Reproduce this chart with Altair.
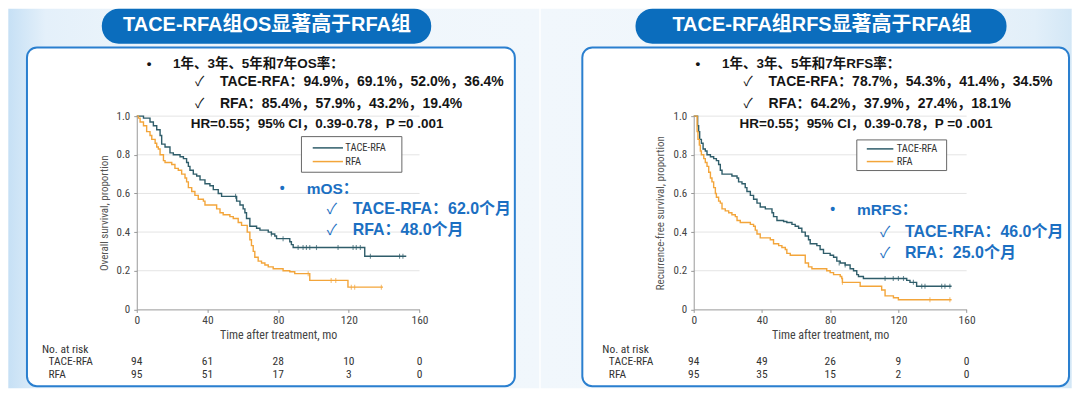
import altair as alt
import pandas as pd

# ---------------- data ----------------
groups = ["TACE-RFA", "RFA"]
colors = ["#2f5d6a", "#f3a53a"]

# Overall survival (step points: time in months, survival proportion)
os_tace_t = [0, 3.8, 7.5, 9.4, 11.3, 13.2, 14.1, 16, 18.8, 20.7, 24.5, 26.4, 28.2, 29.2, 30.1, 32, 33.9, 35.8,
             38.6, 41.4, 43.3, 46.1, 48, 56.5, 58.4, 60.2, 61.2, 62.1, 64, 67.8, 69.7, 74.4, 76.2, 78.1, 79.1,
             86.6, 87.5, 88.5, 129, 152.5]
os_tace_s = [1.0, 0.99, 0.97, 0.95, 0.93, 0.90, 0.855, 0.84, 0.81, 0.80, 0.79, 0.78, 0.76, 0.74, 0.72, 0.70, 0.69,
             0.67, 0.65, 0.64, 0.62, 0.60, 0.585, 0.56, 0.54, 0.52, 0.50, 0.47, 0.43, 0.42, 0.41, 0.40, 0.39, 0.38,
             0.366, 0.35, 0.335, 0.32, 0.275, 0.275]
os_rfa_t = [0, 0.9, 1.9, 3.8, 5.6, 7.5, 8.5, 10.4, 11.3, 12.2, 13.2, 15.1, 16, 19.8, 21.6, 23.5, 25.4, 27.3, 28.2,
            29.2, 31.1, 32.9, 34.8, 37.7, 38.6, 45.2, 47.1, 48.9, 52.7, 54.6, 57.4, 59.3, 62.5, 64, 64.9, 65.9,
            66.8, 68.7, 70.6, 72.5, 74.4, 77.2, 82.8, 86.6, 89.4, 97.9, 119.5, 139.3]
os_rfa_s = [1.0, 0.99, 0.97, 0.95, 0.92, 0.90, 0.88, 0.86, 0.84, 0.83, 0.80, 0.77, 0.76, 0.75, 0.73, 0.72, 0.70,
            0.68, 0.66, 0.63, 0.61, 0.59, 0.57, 0.56, 0.54, 0.52, 0.50, 0.49, 0.48, 0.47, 0.45, 0.435, 0.40, 0.36,
            0.33, 0.30, 0.27, 0.25, 0.24, 0.23, 0.22, 0.21, 0.20, 0.195, 0.185, 0.15, 0.115, 0.115]
os_cens_tace_t = [55.9, 76.2, 82.8, 91.3, 94.1, 96, 97.9, 101.7, 113.9, 122.4, 124.2, 126.5, 132.2, 148.7, 150.6]
os_cens_tace_s = [0.585, 0.39, 0.366, 0.32, 0.32, 0.32, 0.32, 0.32, 0.32, 0.32, 0.32, 0.32, 0.275, 0.275, 0.275]
os_cens_rfa_t = [97, 110, 112.6, 121.4, 123.3, 138.4]
os_cens_rfa_s = [0.185, 0.15, 0.15, 0.115, 0.115, 0.115]

# Recurrence-free survival
rfs_tace_t = [0, 2.3, 2.9, 3.5, 4.5, 5.5, 6.8, 7.8, 9.8, 11.7, 13.3, 14.6, 15.6, 16.6, 22.4, 25.4, 26.3, 28.3,
              30.2, 31.2, 33.2, 35.1, 37.1, 39, 42, 45.9, 46.8, 48.8, 52.7, 54.6, 57.6, 59.5, 61.5, 63.4, 65.4,
              67.3, 68.3, 72.2, 74.1, 76.1, 80, 82, 83.9, 85.9, 88.8, 91.7, 93.7, 95.6, 96.6, 99.5, 124.9, 126.8,
              130.7, 151.2]
rfs_tace_s = [1.0, 0.95, 0.92, 0.88, 0.86, 0.83, 0.82, 0.80, 0.79, 0.78, 0.77, 0.75, 0.72, 0.70, 0.69, 0.68, 0.66,
              0.65, 0.63, 0.61, 0.59, 0.57, 0.55, 0.53, 0.52, 0.50, 0.48, 0.46, 0.455, 0.45, 0.44, 0.43, 0.42, 0.40,
              0.38, 0.36, 0.34, 0.33, 0.31, 0.29, 0.28, 0.27, 0.25, 0.24, 0.23, 0.21, 0.20, 0.18, 0.17, 0.16, 0.15,
              0.14, 0.12, 0.12]
rfs_rfa_t = [0, 2, 2.5, 3.3, 3.9, 4.5, 5.9, 6.8, 7.8, 8.8, 9.8, 10.7, 11.7, 12.7, 13.3, 14.6, 15.6, 16.6, 18.5,
             20.5, 22.4, 24.4, 25.4, 27.3, 33.2, 35.1, 36.1, 37.1, 39, 44.9, 46.8, 49.8, 51.7, 53.7, 54.6, 56.6,
             65.4, 67.3, 69.3, 78, 80, 82, 85.9, 86.8, 87.2, 97.6, 110.2, 112.2, 117.1, 120, 151.2]
rfs_rfa_s = [1.0, 0.92, 0.88, 0.85, 0.82, 0.80, 0.78, 0.76, 0.74, 0.71, 0.68, 0.66, 0.63, 0.60, 0.58, 0.56, 0.55,
             0.52, 0.51, 0.50, 0.49, 0.48, 0.46, 0.45, 0.44, 0.43, 0.41, 0.39, 0.37, 0.36, 0.34, 0.33, 0.32, 0.31,
             0.29, 0.28, 0.24, 0.22, 0.21, 0.20, 0.19, 0.18, 0.17, 0.16, 0.14, 0.12, 0.10, 0.07, 0.06, 0.05, 0.05]
rfs_cens_tace_t = [85.3, 88.8, 112.2, 117, 120, 123, 128.8, 133.7, 135.6, 145.4, 147.3, 150.2]
rfs_cens_tace_s = [0.24, 0.23, 0.16, 0.16, 0.16, 0.16, 0.14, 0.12, 0.12, 0.12, 0.12, 0.12]
rfs_cens_rfa_t = [87.2, 138.5, 150.2]
rfs_cens_rfa_s = [0.14, 0.05, 0.05]

# Numbers at risk
risk_times = [0, 40, 80, 120, 160]
os_risk_tace = [94, 61, 28, 10, 0]
os_risk_rfa = [95, 51, 17, 3, 0]
rfs_risk_tace = [94, 49, 26, 9, 0]
rfs_risk_rfa = [95, 35, 15, 2, 0]

x_ticks = [0, 40, 80, 120, 160]
y_ticks = [0, 0.2, 0.4, 0.6, 0.8, 1.0]
grid_vals = [0.2, 0.4, 0.6, 0.8, 1.0]

# texts
os_title = "TACE-RFA组OS显著高于RFA组"
rfs_title = "TACE-RFA组RFS显著高于RFA组"
os_head = "1年、3年、5年和7年OS率："
rfs_head = "1年、3年、5年和7年RFS率："
os_line1 = "TACE-RFA：94.9%，69.1%，52.0%，36.4%"
os_line2 = "RFA：85.4%，57.9%，43.2%，19.4%"
rfs_line1 = "TACE-RFA：78.7%，54.3%，41.4%，34.5%"
rfs_line2 = "RFA：64.2%，37.9%，27.4%，18.1%"
hr_text = "HR=0.55；95% CI，0.39-0.78，P =0 .001"
os_med = ["mOS：", "TACE-RFA：62.0个月", "RFA：48.0个月"]
rfs_med = ["mRFS：", "TACE-RFA：46.0个月", "RFA：25.0个月"]
os_ytitle = "Overall survival, proportion"
rfs_ytitle = "Recurrence-free survival, proportion"
x_title = "Time after treatment, mo"

# ---------------- styling ----------------
CN = "Liberation Sans, Noto Sans CJK SC, DejaVu Sans, sans-serif"
FIG = "Liberation Sans Narrow, Arial Narrow, Roboto Condensed, Liberation Sans, sans-serif"
BLUE = "#1b6fc2"
ONE = alt.Data(values=[{}])


def curve_df(tt, ss, g):
    return pd.DataFrame({"t": tt, "s": ss, "g": g})


def txt(s, x, y, size, color="#151515", weight="bold", align="left", font=CN):
    return alt.Chart(ONE).mark_text(text=s, align=align, baseline="middle", fontSize=size,
                                    fontWeight=weight, font=font, color=color).encode(
        x=alt.value(x), y=alt.value(y))


def rect(x1, x2, y1, y2, **kw):
    return alt.Chart(ONE).mark_rect(**kw).encode(
        x=alt.value(x1), x2=alt.value(x2), y=alt.value(y1), y2=alt.value(y2))


def hrule(x1, x2, y, color, width=1.5):
    return alt.Chart(ONE).mark_rule(color=color, strokeWidth=width).encode(
        x=alt.value(x1), x2=alt.value(x2), y=alt.value(y))


def panel(W, H, p, title, head, line1, line2, med, ytitle,
          tace, rfa, cens_tace, cens_rfa, risk_tace, risk_rfa):
    x_axis = alt.Axis(values=x_ticks, format="d", grid=False, domainColor="#999", tickColor="#999",
                      tickSize=3, labelPadding=2, labelFlush=False, labelFont=FIG, labelFontSize=11.5,
                      labelColor="#444",
                      title=x_title, titleFont=FIG, titleFontSize=12, titleFontWeight="normal",
                      titleColor="#444", titleX=W / 2, titleY=25, titleBaseline="middle", zindex=1)
    y_axis = alt.Axis(values=y_ticks, labelExpr="datum.value == 0 ? '0' : format(datum.value, '.1f')",
                      grid=False, domainColor="#999", tickColor="#999", tickSize=3, labelPadding=4,
                      labelFlush=False, labelFont=FIG, labelFontSize=11, labelColor="#444",
                      title=ytitle, titleFont=FIG, titleFontSize=11, titleFontWeight="normal",
                      titleColor="#555", titleAngle=270, titleX=p["ytx"], titleY=H / 2,
                      titleAlign="center", titleBaseline="middle", zindex=1)
    xs = alt.Scale(domain=[0, 160], nice=False, zero=False)
    ys = alt.Scale(domain=[0, 1], nice=False)
    cs = alt.Scale(domain=groups, range=colors)
    X = alt.X("t:Q", scale=xs, axis=x_axis)
    Y = alt.Y("s:Q", scale=ys, axis=y_axis)

    bg_stops = p["bg"]
    bg = rect(p["bgx"][0], p["bgx"][1], -107.5, 272.5,
              fill=alt.LinearGradient(gradient="linear",
                                      stops=[alt.GradientStop(color=c, offset=o) for o, c in bg_stops],
                                      x1=0, x2=1, y1=0, y2=0))
    pill = rect(p["pillx"][0], p["pillx"][1], -107.5, -72.5, fill="#0b6dbd", cornerRadius=17)
    pill_t = txt(title, p["pilltx"], -91.5, 20, color="white", align="center")
    box = rect(p["boxx"][0], p["boxx"][1], -68.8, 270.5, fill="white", stroke="#2a7fcf",
               strokeWidth=2, cornerRadius=10)

    grid = alt.Chart(pd.DataFrame({"s": grid_vals})).mark_rule(color="#e4e4e4", strokeWidth=1).encode(
        y=Y, x=alt.value(0), x2=alt.value(W))

    hx = p["hx"]
    heads = [
        txt("•", hx[0], -52.2, 13.5),
        txt(head, hx[1], -52.2, 13.5),
        txt("✓", hx[2], -33.8, 13.5, weight="normal"),
        txt(line1, hx[3], -33.8, 14),
        txt("✓", hx[2], -12.2, 13.5, weight="normal"),
        txt(line2, hx[3], -12.2, 14),
        txt(hr_text, hx[4], 7.8, 13.5),
    ]

    curves = pd.concat([curve_df(tace[0], tace[1], groups[0]), curve_df(rfa[0], rfa[1], groups[1])])
    cens = pd.concat([curve_df(cens_tace[0], cens_tace[1], groups[0]),
                      curve_df(cens_rfa[0], cens_rfa[1], groups[1])])
    lines = alt.Chart(curves).mark_line(interpolate="step-after", strokeWidth=1.4).encode(
        x=X, y=Y, color=alt.Color("g:N", scale=cs, legend=None), detail="g:N")
    ticks = alt.Chart(cens).mark_tick(orient="vertical", size=5, thickness=1.1).encode(
        x=X, y=Y, color=alt.Color("g:N", scale=cs, legend=None))

    lg = p["leg"]
    legend = [
        rect(lg["x"][0], lg["x"][1], lg["y"][0], lg["y"][1], fill="white", stroke="#666", strokeWidth=1),
        hrule(lg["rx"][0], lg["rx"][1], lg["ry"][0], colors[0]),
        hrule(lg["rx"][0], lg["rx"][1], lg["ry"][1], colors[1]),
        txt(groups[0], lg["lx"], lg["ry"][0], 10.5, color="#333", weight="normal", font=FIG),
        txt(groups[1], lg["lx"], lg["ry"][1], 10.5, color="#333", weight="normal", font=FIG),
    ]

    mx, my = p["mx"], p["my"]
    meds = [
        txt("•", mx[0], my[0], 14, color=BLUE),
        txt(med[0], mx[1], my[0], 15.5, color=BLUE),
        txt("✓", mx[2], my[1], 15, color=BLUE, weight="normal"),
        txt(med[1], mx[3], my[1], 16, color=BLUE),
        txt("✓", mx[2], my[2], 15, color=BLUE, weight="normal"),
        txt(med[2], mx[3], my[2], 16, color=BLUE),
    ]

    rx = p["riskx"]
    risk = [
        txt("No. at risk", rx[0], 234.5, 11.5, color="#333", weight="normal", font=FIG),
        txt(groups[0], rx[1], 246.8, 11.5, color="#333", weight="normal", font=FIG),
        txt(groups[1], rx[1], 259.5, 11.5, color="#333", weight="normal", font=FIG),
    ]
    rdf1 = pd.DataFrame({"t": risk_times, "n": risk_tace})
    rdf2 = pd.DataFrame({"t": risk_times, "n": risk_rfa})
    rnum1 = alt.Chart(rdf1).mark_text(font=FIG, fontSize=11.5, color="#333", baseline="middle").encode(
        x=X, y=alt.value(246.8), text="n:Q")
    rnum2 = alt.Chart(rdf2).mark_text(font=FIG, fontSize=11.5, color="#333", baseline="middle").encode(
        x=X, y=alt.value(259.5), text="n:Q")

    layers = [bg, pill, pill_t, box, grid] + heads + [lines, ticks] + legend + meds + risk + [rnum1, rnum2]
    return alt.layer(*layers).properties(width=W, height=H)


left_p = dict(
    bgx=(-128.7, 403.3), bg=[(0, "#c6e0f5"), (0.07, "#e4f0fa"), (0.3, "#eef5fb"), (1, "#f1f7fc")],
    pillx=(-35, 295), pilltx=130.5, boxx=(-110, 378.8),
    hx=(10, 36.3, 58.3, 83.3, 54),
    leg=dict(x=(165, 265.6), y=(20.5, 56.2), rx=(176.3, 206.6), ry=(31.8, 45.5), lx=209),
    mx=(143.3, 170.3, 190.3, 216.3), my=(72.5, 93.5, 114.5),
    riskx=(-95, -88.4), ytx=-32,
)
right_p = dict(
    bgx=(-153.3, 378.7), bg=[(0, "#f1f7fc"), (0.7, "#eef5fb"), (0.93, "#e2eff9"), (1, "#d3e7f6")],
    pillx=(-58.3, 313.4), pilltx=128.4, boxx=(-111.6, 376),
    hx=(1.7, 28.4, 50, 75, 46),
    leg=dict(x=(163.4, 253.4), y=(23.8, 54.5), rx=(173.4, 200), ry=(32.8, 45.5), lx=203.4),
    mx=(136.7, 163.7, 186.7, 211.7), my=(94.5, 116.5, 137.5),
    riskx=(-91.6, -85), ytx=-33,
)

left = panel(283.3, 193.6, left_p, os_title, os_head, os_line1, os_line2, os_med, os_ytitle,
             (os_tace_t, os_tace_s), (os_rfa_t, os_rfa_s),
             (os_cens_tace_t, os_cens_tace_s), (os_cens_rfa_t, os_cens_rfa_s),
             os_risk_tace, os_risk_rfa)
right = panel(273.4, 193.6, right_p, rfs_title, rfs_head, rfs_line1, rfs_line2, rfs_med, rfs_ytitle,
              (rfs_tace_t, rfs_tace_s), (rfs_rfa_t, rfs_rfa_s),
              (rfs_cens_tace_t, rfs_cens_tace_s), (rfs_cens_rfa_t, rfs_cens_rfa_s),
              rfs_risk_tace, rfs_risk_rfa)

chart = alt.hconcat(left, right, spacing=0, bounds="full").properties(padding=0).configure_view(
    stroke=None).resolve_scale(color="shared")

chart.save("out.html", embed_options={"renderer": "svg", "actions": False})
